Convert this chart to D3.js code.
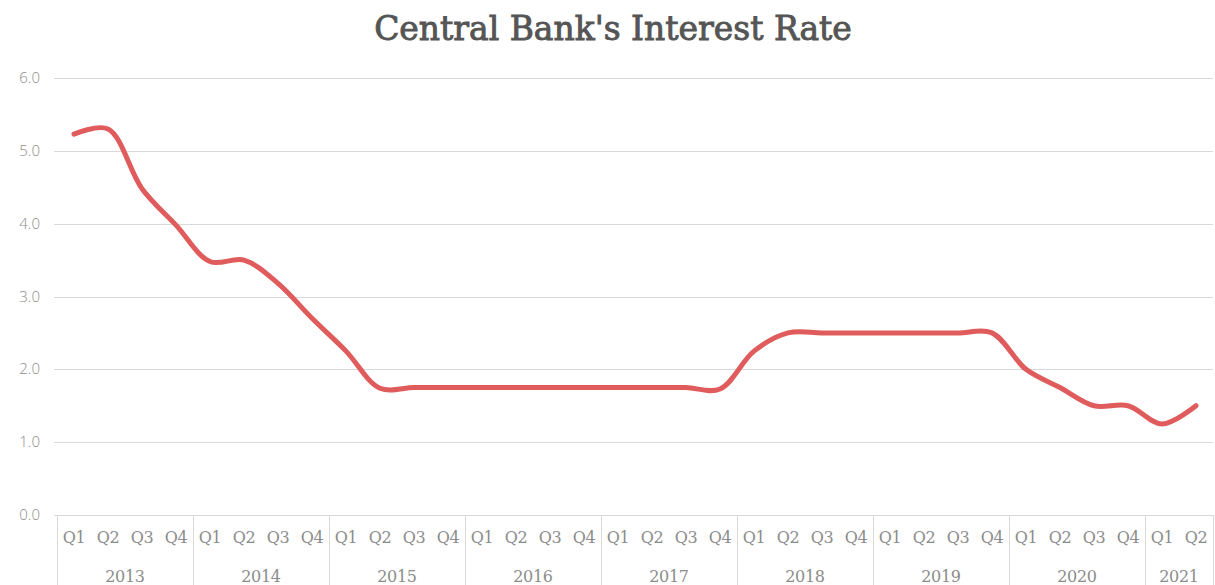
<!DOCTYPE html>
<html>
<head>
<meta charset="utf-8">
<script src="https://cdn.jsdelivr.net/npm/d3@7"></script>
<style>
  body { margin: 0; background: #fff; }
</style>
</head>
<body>
<script>
// quarterly data, 2013 Q1 .. 2021 Q2
var years = ["2013", "2014", "2015", "2016", "2017", "2018", "2019", "2020", "2021"];
var quartersPerYear = [4, 4, 4, 4, 4, 4, 4, 4, 2];
var quarterNames = ["Q1", "Q2", "Q3", "Q4"];
var rates = [
  5.23, 5.30, 4.48, 3.98,
  3.48, 3.50, 3.18, 2.70,
  2.25, 1.74, 1.75, 1.75,
  1.75, 1.75, 1.75, 1.75,
  1.75, 1.75, 1.75, 1.73,
  2.25, 2.50, 2.50, 2.50,
  2.50, 2.50, 2.50, 2.50,
  2.00, 1.75, 1.50, 1.50,
  1.25, 1.50
];
var yTicks = [0, 1, 2, 3, 4, 5, 6];

var width = 1215,
    height = 585;

var margin = {left: 57, right: 2, top: 78, bottom: 70};

var categories = [];
years.forEach(function(y, i){
  for (var q = 0; q < quartersPerYear[i]; q++) {
    categories.push({year: y, q: quarterNames[q], key: y + quarterNames[q]});
  }
});

var svg = d3.select("body").append("svg")
    .attr("width", width)
    .attr("height", height);

var x = d3.scaleBand()
    .domain(categories.map(function(d){ return d.key; }))
    .range([margin.left, width - margin.right]);

var y = d3.scaleLinear()
    .domain([0, 6])
    .range([height - margin.bottom, margin.top]);

// title, sized to the width it has in the original
var title = svg.append("text")
    .attr("x", 613)
    .attr("y", 40)
    .attr("text-anchor", "middle")
    .attr("fill", "#555")
    .attr("stroke", "#555")
    .attr("stroke-width", 0.9)
    .style("font-size", "30px")
    .style("font-family", "'DejaVu Serif', serif")
    .text("Central Bank's Interest Rate");
var tw = title.node().getComputedTextLength();
title.style("font-size", (30 * 478 / tw) + "px");

// gridlines
svg.append("g").selectAll("line")
    .data(yTicks)
  .enter().append("line")
    .attr("x1", margin.left - 3)
    .attr("x2", width - margin.right)
    .attr("y1", function(d){ return Math.round(y(d)) + 0.5; })
    .attr("y2", function(d){ return Math.round(y(d)) + 0.5; })
    .attr("stroke", "#d9d9d9")
    .attr("stroke-width", 1);

// y labels
svg.append("g").selectAll("text")
    .data(yTicks)
  .enter().append("text")
    .attr("x", 40)
    .attr("y", function(d){ return y(d) + 5; })
    .attr("text-anchor", "end")
    .attr("fill", "#8c8c8c")
    .style("font-size", "15px")
    .style("font-family", "'Open Sans', sans-serif")
    .style("font-weight", "300")
    .text(function(d){ return d.toFixed(1); });

// year separators
var bounds = [];
var idx = 0;
years.forEach(function(yr, i){
  bounds.push(idx);
  idx += quartersPerYear[i];
});
bounds.push(idx);

svg.append("g").selectAll("line")
    .data(bounds)
  .enter().append("line")
    .attr("x1", function(d){ return Math.round(margin.left + d * x.step()) + 0.5; })
    .attr("x2", function(d){ return Math.round(margin.left + d * x.step()) + 0.5; })
    .attr("y1", y(0))
    .attr("y2", height)
    .attr("stroke", "#d9d9d9");

// quarter labels
svg.append("g").selectAll("text")
    .data(categories)
  .enter().append("text")
    .attr("x", function(d){ return x(d.key) + x.bandwidth() / 2; })
    .attr("y", 543)
    .attr("text-anchor", "middle")
    .attr("fill", "#8c8c8c")
    .style("font-size", "16px")
    .style("font-family", "'DejaVu Serif', serif")
    .style("letter-spacing", "-0.3px")
    .text(function(d){ return d.q; });

// year labels
svg.append("g").selectAll("text")
    .data(years)
  .enter().append("text")
    .attr("x", function(d, i){
      return margin.left + (bounds[i] + bounds[i + 1]) / 2 * x.step();
    })
    .attr("y", 582)
    .attr("text-anchor", "middle")
    .attr("fill", "#8c8c8c")
    .style("font-size", "16px")
    .style("font-family", "'DejaVu Serif', serif")
    .style("letter-spacing", "-0.3px")
    .text(function(d){ return d; });

// the line
var line = d3.line()
    .x(function(d, i){ return x(categories[i].key) + x.bandwidth() / 2; })
    .y(function(d){ return y(d); })
    .curve(d3.curveCatmullRom.alpha(0.5));

svg.append("path")
    .datum(rates)
    .attr("d", line)
    .attr("fill", "none")
    .attr("stroke", "#e05c5c")
    .attr("stroke-width", 5)
    .attr("stroke-linecap", "round")
    .attr("stroke-linejoin", "round");
</script>
</body>
</html>
